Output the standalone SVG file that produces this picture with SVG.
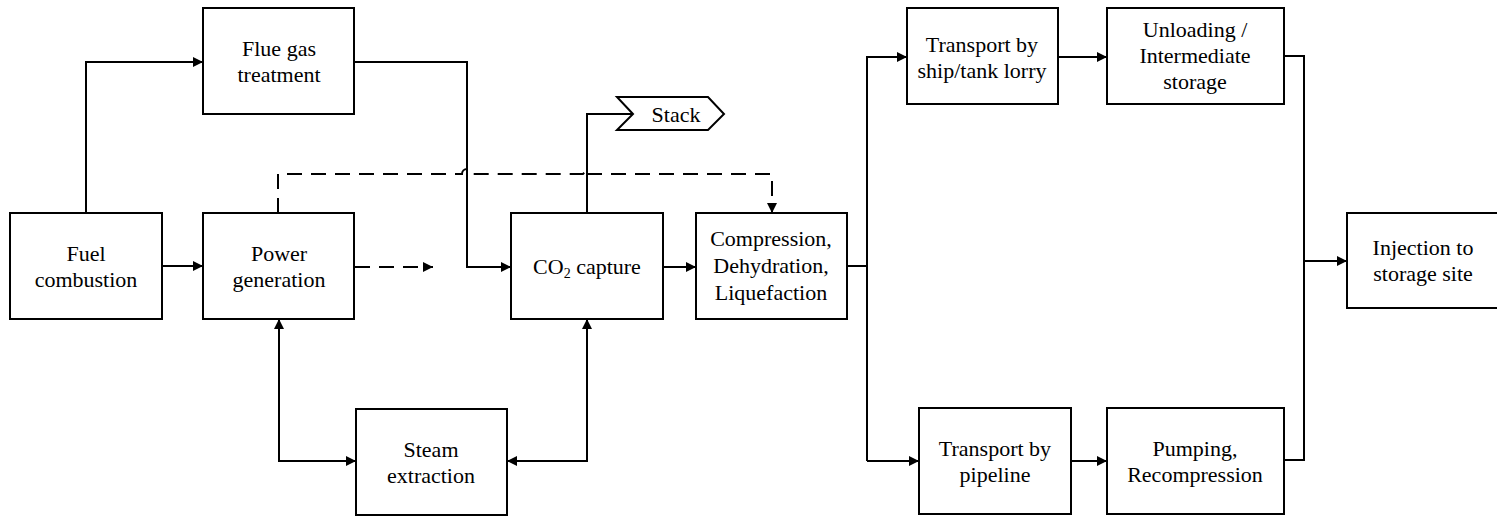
<svg xmlns="http://www.w3.org/2000/svg" width="1497" height="518" viewBox="0 0 1497 518">
<style>
.box{fill:#fff;stroke:#000;stroke-width:2}
.t{font-size:22px;fill:#000;text-anchor:middle}
.c{fill:none;stroke:#000;stroke-width:2}
.d{fill:none;stroke:#000;stroke-width:2;stroke-dasharray:15 9}
</style>
<defs>
<marker id="ah" viewBox="0 0 10 10" refX="10" refY="5" markerWidth="10" markerHeight="10" markerUnits="userSpaceOnUse" orient="auto-start-reverse">
<path d="M0,0 L10,5 L0,10 z" fill="#000"/>
</marker>
</defs>
<rect width="1497" height="518" fill="#fff"/>
<g id="connectors">
<path class="c" d="M162,266 H203" marker-end="url(#ah)"/>
<path class="c" d="M86,213 V62 H203" marker-end="url(#ah)"/>
<path class="c" d="M354,62 H467 V267 H511" marker-end="url(#ah)"/>
<path class="c" d="M663,267 H696" marker-end="url(#ah)"/>
<path class="c" d="M587,213 V114 H633"/>
<path class="d" d="M278,213 V174 H462 A5,5 0 0 1 472,174 H583 L587,170 M587,174 H772 V213" marker-end="url(#ah)"/>
<path class="d" d="M355,267 H433" marker-end="url(#ah)"/>
<path class="c" d="M279,319 V461 H356" marker-start="url(#ah)" marker-end="url(#ah)"/>
<path class="c" d="M587,319 V461 H507" marker-start="url(#ah)" marker-end="url(#ah)"/>
<path class="c" d="M847,266 H867"/>
<path class="c" d="M867,461 V57 H907" marker-end="url(#ah)"/>
<path class="c" d="M867,461 H919" marker-end="url(#ah)"/>
<path class="c" d="M1058,57 H1107" marker-end="url(#ah)"/>
<path class="c" d="M1071,461 H1107" marker-end="url(#ah)"/>
<path class="c" d="M1284,56 H1304 V460 H1284"/>
<path class="c" d="M1304,261 H1347" marker-end="url(#ah)"/>
</g>
<g font-family="Liberation Serif, Times New Roman, serif">
<g id="fuel-combustion">
<rect class="box" x="10" y="213" width="152" height="106"/>
<text class="t" x="86" y="261">Fuel</text>
<text class="t" x="86" y="287">combustion</text>
</g>
<g id="power-generation">
<rect class="box" x="203" y="213" width="151" height="106"/>
<text class="t" x="279" y="261">Power</text>
<text class="t" x="279" y="287">generation</text>
</g>
<g id="flue-gas-treatment">
<rect class="box" x="203" y="8" width="151" height="106"/>
<text class="t" x="279" y="56">Flue gas</text>
<text class="t" x="279" y="82">treatment</text>
</g>
<g id="co2-capture">
<rect class="box" x="511" y="213" width="152" height="106"/>
<text class="t" x="587" y="274">CO<tspan font-size="14" dy="4">2</tspan><tspan dy="-4"> capture</tspan></text>
</g>
<g id="stack">
<path class="box" d="M617,97 H708 L724,114 L708,130 H617 L633,114 z"/>
<text class="t" x="676" y="122">Stack</text>
</g>
<g id="compression">
<rect class="box" x="696" y="213" width="151" height="106"/>
<text class="t" x="771" y="246">Compression,</text>
<text class="t" x="771" y="273">Dehydration,</text>
<text class="t" x="771" y="300">Liquefaction</text>
</g>
<g id="steam-extraction">
<rect class="box" x="356" y="409" width="151" height="106"/>
<text class="t" x="431" y="457">Steam</text>
<text class="t" x="431" y="483">extraction</text>
</g>
<g id="transport-ship">
<rect class="box" x="907" y="8" width="151" height="96"/>
<text class="t" x="982" y="52">Transport by</text>
<text class="t" x="982" y="78">ship/tank lorry</text>
</g>
<g id="unloading">
<rect class="box" x="1107" y="8" width="177" height="96"/>
<text class="t" x="1195" y="37">Unloading /</text>
<text class="t" x="1195" y="63">Intermediate</text>
<text class="t" x="1195" y="89">storage</text>
</g>
<g id="transport-pipeline">
<rect class="box" x="919" y="408" width="152" height="106"/>
<text class="t" x="995" y="456">Transport by</text>
<text class="t" x="995" y="482">pipeline</text>
</g>
<g id="pumping">
<rect class="box" x="1107" y="408" width="177" height="106"/>
<text class="t" x="1195" y="456">Pumping,</text>
<text class="t" x="1195" y="482">Recompression</text>
</g>
<g id="injection">
<rect class="box" x="1347" y="213" width="152" height="95"/>
<text class="t" x="1423" y="255">Injection to</text>
<text class="t" x="1423" y="281">storage site</text>
</g>
</g>
</svg>
